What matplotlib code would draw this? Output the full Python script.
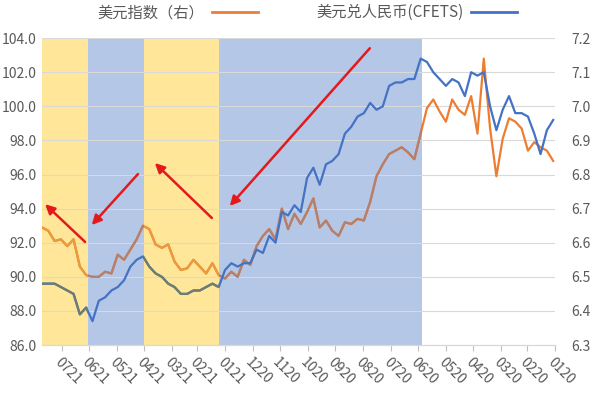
import pandas as pd
import numpy as np
import matplotlib
matplotlib.use('Agg')
import matplotlib.pyplot as plt
from matplotlib.lines import Line2D

plt.rcParams['font.family'] = ['Noto Sans CJK SC', 'DejaVu Sans']

# 周度数据（周五）
dates = pd.date_range('2020-01-03', '2021-07-23', freq='W-FRI')

# 美元兑人民币(CFETS)，右轴
cny = [
    6.96, 6.93, 6.86, 6.92, 6.97,
    6.98, 6.98, 7.03, 6.99,
    6.93, 7.00, 7.10, 7.09,
    7.10, 7.03, 7.07, 7.08,
    7.06, 7.08, 7.10, 7.13, 7.14,
    7.08, 7.08, 7.07, 7.07,
    7.06, 7.00, 6.99, 7.01, 6.98,
    6.97, 6.94, 6.92, 6.86,
    6.84, 6.83, 6.77, 6.82,
    6.79, 6.69, 6.71, 6.68, 6.69,
    6.60, 6.62, 6.57, 6.58,
    6.54, 6.54, 6.53, 6.54,
    6.52, 6.47, 6.48, 6.47, 6.46,
    6.46, 6.45, 6.45, 6.47,
    6.48, 6.50, 6.51, 6.53,
    6.56, 6.55, 6.53, 6.49, 6.47,
    6.46, 6.44, 6.43, 6.37,
    6.41, 6.39, 6.45, 6.46,
    6.47, 6.48, 6.48, 6.48,
]

# 美元指数，左轴
dxy = [
    96.8, 97.4, 97.6, 97.9, 97.4,
    98.7, 99.1, 99.3, 98.1,
    95.9, 98.7, 102.8, 98.4,
    100.6, 99.5, 99.8, 100.4,
    99.1, 99.7, 100.4, 99.9, 98.4,
    96.9, 97.3, 97.6, 97.4,
    97.2, 96.6, 95.9, 94.4, 93.3,
    93.4, 93.1, 93.2, 92.4,
    92.7, 93.3, 92.9, 94.6,
    93.8, 93.1, 93.7, 92.8, 94.0,
    92.2, 92.8, 92.4, 91.8,
    90.7, 91.0, 90.0, 90.3,
    89.9, 90.1, 90.8, 90.2, 90.6,
    91.0, 90.5, 90.4, 90.9,
    91.9, 91.7, 91.9, 92.8,
    93.0, 92.2, 91.6, 91.0, 91.3,
    90.2, 90.3, 90.0, 90.0,
    90.1, 90.6, 92.2, 91.8,
    92.2, 92.1, 92.7, 92.9,
]

# 阶段划分
blue_periods = [('2020-05-28', '2021-01-08'), ('2021-04-01', '2021-06-02')]
yellow_periods = [('2021-01-08', '2021-04-01'), ('2021-06-02', '2021-07-23')]

x_start = pd.Timestamp('2020-01-01')
x_end = pd.Timestamp('2021-07-23')
month_ticks = pd.date_range('2020-01-01', '2021-07-01', freq='MS')

c_blue = '#4472C4'
c_orange = '#ED7D31'
c_grey = '#595959'

fig = plt.figure(figsize=(6, 3.93), dpi=100)
ax = fig.add_axes([0.07, 0.122, 0.855, 0.781])
ax2 = ax.twinx()

# 背景色块
blue_spans = [ax.axvspan(pd.Timestamp(a), pd.Timestamp(b), color='#B4C7E7', lw=0, zorder=0.2)
              for a, b in blue_periods]
yellow_spans = [ax.axvspan(pd.Timestamp(a), pd.Timestamp(b), color='#FFE699', lw=0, zorder=0.2)
                for a, b in yellow_periods]

# 曲线
ax.plot(dates, dxy, color=c_orange, lw=1.6, zorder=2)
ax2.plot(dates, cny, color=c_blue, lw=1.6, zorder=2)
# 色块内的线条颜色
for sp in blue_spans:
    ln, = ax.plot(dates, dxy, color='#B3806F', lw=1.6, zorder=2.1)
    ln.set_clip_path(sp)
for sp in yellow_spans:
    ln, = ax.plot(dates, dxy, color='#EB9A3C', lw=1.6, zorder=2.1)
    ln.set_clip_path(sp)
    ln2, = ax2.plot(dates, cny, color='#6E7D6C', lw=1.6, zorder=2.1)
    ln2.set_clip_path(sp)

ax.set_xlim(x_end, x_start)
ax.set_ylim(86, 104)
ax.set_yticks(np.arange(86, 104.1, 2))
ax.yaxis.set_major_formatter(matplotlib.ticker.FormatStrFormatter('%.1f'))
ax2.set_ylim(6.3, 7.2)
ax2.set_yticks(np.arange(6.3, 7.21, 0.1))
ax2.yaxis.set_major_formatter(matplotlib.ticker.FormatStrFormatter('%.1f'))

ax.set_xticks(month_ticks)
ax.set_xticklabels([d.strftime('%m%y') for d in month_ticks], rotation=-45,
                   ha='left', va='top', rotation_mode='anchor')

ax.grid(axis='y', color='#D9D9D9', lw=0.8)
ax.set_axisbelow(True)
for a in (ax, ax2):
    for s in ('top', 'left', 'right'):
        a.spines[s].set_visible(False)
    a.spines['bottom'].set_color('#D9D9D9')
ax.tick_params(axis='x', length=4, color='#BFBFBF', labelsize=10, labelcolor=c_grey, pad=3)
ax.tick_params(axis='y', length=0, labelsize=10, labelcolor=c_grey, pad=4)
ax2.tick_params(axis='y', length=0, labelsize=10, labelcolor=c_grey, pad=12)

# 红色箭头
arrows = [((0.639, 0.967), (0.366, 0.453)),
          ((0.331, 0.414), (0.220, 0.593)),
          ((0.187, 0.557), (0.097, 0.391)),
          ((0.084, 0.336), (0.006, 0.459))]
for tail, head in arrows:
    ax2.annotate('', xy=head, xytext=tail, xycoords='axes fraction', textcoords='axes fraction',
                 arrowprops=dict(arrowstyle='-|>', color='#E31A1C', lw=1.8, mutation_scale=14,
                                 shrinkA=0, shrinkB=0))

handles = [Line2D([], [], color=c_orange, lw=2), Line2D([], [], color=c_blue, lw=2)]
fig.legend(handles, ['美元指数（右）', '美元兑人民币(CFETS)'], loc='center',
           bbox_to_anchor=(0.512, 0.968), ncol=2, frameon=False, markerfirst=False,
           columnspacing=3.8, handlelength=3, handletextpad=0.5, fontsize=11, labelcolor=c_grey)

fig.savefig('out.png', dpi=100)
